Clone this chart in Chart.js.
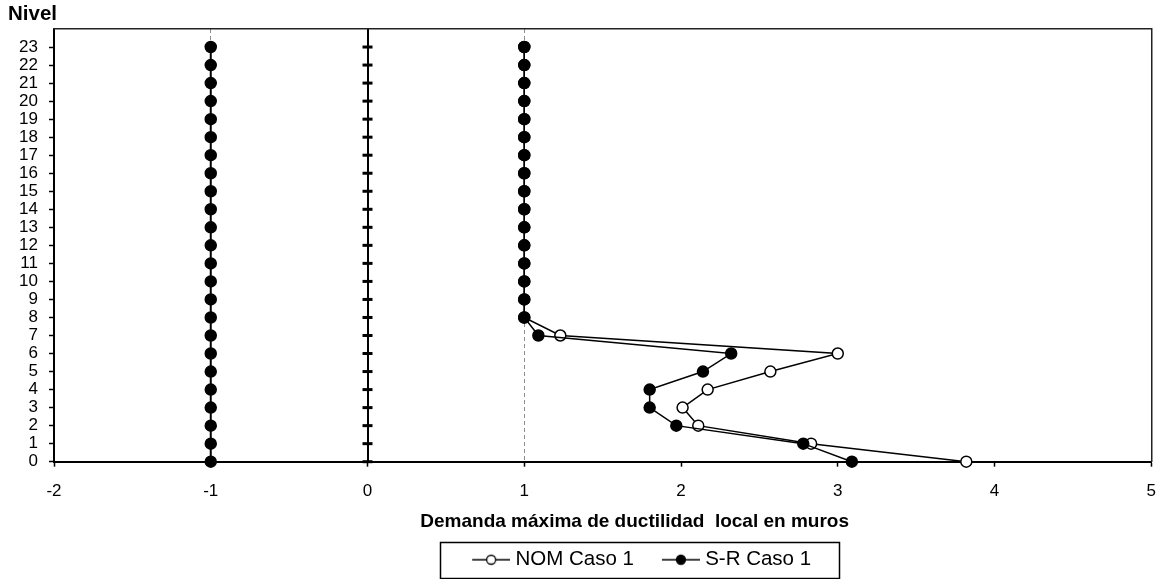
<!DOCTYPE html>
<html>
<head>
<meta charset="utf-8">
<script src="https://cdn.jsdelivr.net/npm/chart.js@4"></script>
<style>
  html, body { margin: 0; padding: 0; background: #fff; }
</style>
</head>
<body>
<canvas id="chart" width="1170" height="579"></canvas>
<script>
// niveles del edificio (eje vertical)
let niveles = [0, 1, 2, 3, 4, 5, 6, 7, 8, 9, 10, 11, 12, 13, 14, 15, 16, 17, 18, 19, 20, 21, 22, 23];

// demanda máxima de ductilidad por nivel
let nomCaso1 = [3.82, 2.83, 2.11, 2.01, 2.17, 2.57, 3.00, 1.23, 1, 1, 1, 1, 1, 1, 1, 1, 1, 1, 1, 1, 1, 1, 1, 1];
let srCaso1 = [3.09, 2.78, 1.97, 1.80, 1.80, 2.14, 2.32, 1.09, 1, 1, 1, 1, 1, 1, 1, 1, 1, 1, 1, 1, 1, 1, 1, 1];

// columnas auxiliares en -1 y 0
let refMenosUno = [-1, -1, -1, -1, -1, -1, -1, -1, -1, -1, -1, -1, -1, -1, -1, -1, -1, -1, -1, -1, -1, -1, -1, -1];
let ejeCero = [0, 0, 0, 0, 0, 0, 0, 0, 0, 0, 0, 0, 0, 0, 0, 0, 0, 0, 0, 0, 0, 0, 0, 0];

let xTicks = [-2, -1, 0, 1, 2, 3, 4, 5];

let fuente = "'Liberation Sans', Arial, sans-serif";

let puntos = function (valores) {
    return valores.map((v, i) => ({ x: v, y: niveles[i] }));
}

// simbolo de leyenda: linea con marcador, con margen libre a la izquierda
let simbolo = function (relleno) {
    let c = document.createElement('canvas');
    c.width = 57;
    c.height = 14;
    let g = c.getContext('2d');
    g.strokeStyle = '#000';
    g.lineWidth = 1.5;
    g.beginPath();
    g.moveTo(19, 7);
    g.lineTo(57, 7);
    g.stroke();
    g.beginPath();
    g.arc(38, 7, 4.5, 0, Math.PI * 2);
    g.fillStyle = relleno;
    g.fill();
    g.lineWidth = 1.3;
    g.stroke();
    return c;
}

// leyenda desplazada y con recuadro
let marcoLeyenda = {
    id: 'marcoLeyenda',
    afterLayout(chart) {
        chart.legend.left += 32;
        chart.legend.right += 32;
    },
    afterDraw(chart) {
        let hb = chart.legend.legendHitBoxes;
        if (!hb || !hb.length) return;
        let izq = hb[0].left + 14 - 32;
        let ult = hb[hb.length - 1];
        let der = ult.left + ult.width + 28;
        let cy = hb[0].top + hb[0].height / 2;
        let ctx = chart.ctx;
        ctx.save();
        ctx.strokeStyle = '#000';
        ctx.lineWidth = 1.5;
        ctx.strokeRect(Math.round(izq) + 0.5, Math.round(cy - 18) + 0.5, Math.round(der - izq), 36);
        ctx.restore();
    }
};

let createChart = function () {
    const ctx = document.getElementById('chart');

    new Chart(ctx, {
        type: 'scatter',
        data: {
            datasets: [
                {
                    label: 'NOM Caso 1',
                    data: puntos(nomCaso1),
                    showLine: true,
                    borderColor: '#000',
                    borderWidth: 1.5,
                    pointRadius: 5.5,
                    pointBorderWidth: 1.5,
                    pointBackgroundColor: '#fff',
                    pointBorderColor: '#000',
                    order: 1,
                    clip: false
                },
                {
                    label: 'S-R Caso 1',
                    data: puntos(srCaso1),
                    showLine: true,
                    borderColor: '#000',
                    borderWidth: 1.5,
                    pointRadius: 5.5,
                    pointBorderWidth: 1.5,
                    pointBackgroundColor: '#000',
                    pointBorderColor: '#000',
                    order: 0,
                    clip: false
                },
                {
                    label: 'ref',
                    data: puntos(refMenosUno),
                    showLine: true,
                    borderColor: '#000',
                    borderWidth: 2,
                    pointRadius: 5.5,
                    pointBorderWidth: 1.5,
                    pointBackgroundColor: '#000',
                    pointBorderColor: '#000',
                    order: 2,
                    clip: false
                },
                {
                    label: 'eje',
                    data: puntos(ejeCero),
                    showLine: false,
                    pointStyle: 'line',
                    pointRadius: 5,
                    pointBorderWidth: 3,
                    pointBorderColor: '#000',
                    order: 3,
                    clip: false
                }
            ]
        },
        options: {
            responsive: false,
            animation: false,
            layout: { padding: { left: 8, right: 0, top: 0, bottom: -1 } },
            plugins: {
                tooltip: { enabled: false },
                title: {
                    display: true,
                    text: 'Nivel',
                    align: 'start',
                    color: '#000',
                    font: { family: fuente, size: 20.5, weight: 'bold' },
                    padding: { top: 2, bottom: 0 }
                },
                legend: {
                    position: 'bottom',
                    fullSize: false,
                    title: {
                        display: true,
                        text: 'Demanda máxima de ductilidad  local en muros',
                        color: '#000',
                        font: { family: fuente, size: 19, weight: 'bold' },
                        padding: { top: 0, bottom: 0 }
                    },
                    labels: {
                        color: '#000',
                        font: { family: fuente, size: 20.5 },
                        usePointStyle: true,
                        pointStyleWidth: 47,
                        padding: 14,
                        generateLabels: () => [
                            { text: 'NOM Caso 1', pointStyle: simbolo('#fff'), datasetIndex: 0, lineWidth: 0, fontColor: '#000' },
                            { text: 'S-R Caso 1', pointStyle: simbolo('#000'), datasetIndex: 1, lineWidth: 0, fontColor: '#000' }
                        ]
                    }
                }
            },
            scales: {
                x: {
                    type: 'linear',
                    min: xTicks[0],
                    max: xTicks[xTicks.length - 1],
                    afterBuildTicks: s => { s.ticks = xTicks.map(v => ({ value: v })); },
                    ticks: {
                        color: '#000',
                        font: { family: fuente, size: 17 },
                        padding: 14
                    },
                    grid: {
                        color: c => (c.tick && Math.abs(c.tick.value) === 1) ? '#8c8c8c' : 'rgba(0,0,0,0)',
                        lineWidth: 1,
                        tickColor: '#000',
                        tickLength: 5,
                        tickWidth: 1.5,
                        tickBorderDash: []
                    },
                    border: { color: '#000', width: 2, dash: [4, 3] },
                    afterFit: s => { s.height = 51; }
                },
                y: {
                    type: 'linear',
                    position: 'left',
                    min: 0,
                    max: 24,
                    afterBuildTicks: s => { s.ticks = niveles.concat([24]).map(v => ({ value: v })); },
                    ticks: {
                        color: '#000',
                        font: { family: fuente, size: 17 },
                        padding: 11,
                        autoSkip: false,
                        callback: v => niveles.includes(v) ? String(v) : ''
                    },
                    grid: {
                        drawOnChartArea: false,
                        tickLength: 5,
                        tickWidth: 1.5,
                        tickColor: c => (c.tick && c.tick.value === 24) ? 'rgba(0,0,0,0)' : '#000'
                    },
                    border: { color: '#000', width: 2 },
                    afterFit: s => { s.width = 46; }
                },
                yCero: {
                    type: 'linear',
                    position: { x: 0 },
                    min: 0,
                    max: 24,
                    ticks: { display: false },
                    grid: { drawOnChartArea: false, drawTicks: false },
                    border: { color: '#000', width: 2 }
                },
                xArriba: {
                    type: 'linear',
                    position: 'top',
                    min: -2,
                    max: 5,
                    ticks: { display: false },
                    grid: { drawOnChartArea: false, drawTicks: false },
                    border: { color: '#222', width: 1.5 },
                    afterFit: s => { s.height = 2.4; }
                },
                yDerecha: {
                    type: 'linear',
                    position: 'right',
                    min: 0,
                    max: 24,
                    ticks: { display: false },
                    grid: { drawOnChartArea: false, drawTicks: false },
                    border: { color: '#222', width: 1.5 },
                    afterFit: s => { s.width = 14; }
                }
            }
        },
        plugins: [marcoLeyenda]
    });
}

createChart();
</script>
</body>
</html>
